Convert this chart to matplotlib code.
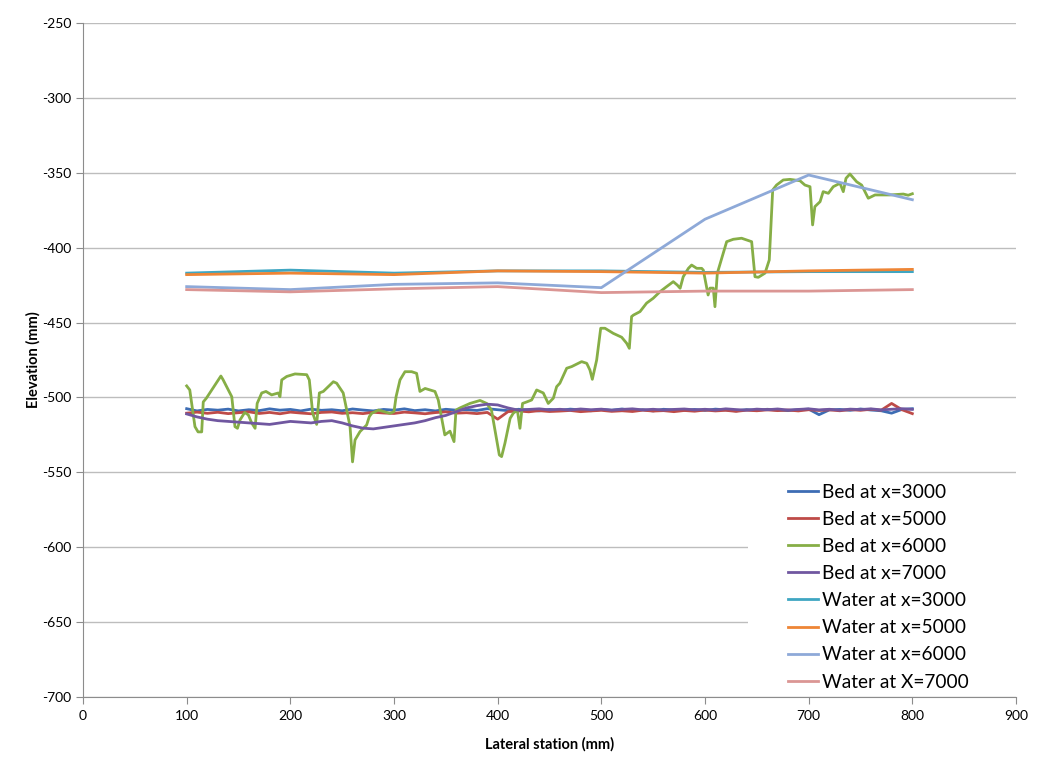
import matplotlib
matplotlib.use("Agg")
import matplotlib.pyplot as plt
from matplotlib.patches import Rectangle
import numpy as np

plt.rcParams['font.family'] = ['Lato', 'DejaVu Sans']
plt.rcParams['axes.unicode_minus'] = False

# lateral stations for the dense bed profiles (every 10 mm)
bed_x = list(range(100, 801, 10))

bed3000 = [-507.5, -509, -508, -508.5, -507.8, -509, -508.2, -508.8, -507.6, -508.5,
           -508, -509, -507.8, -508.6, -508.2, -508.9, -507.7, -508.4, -509, -508,
           -508.5, -507.6, -508.8, -508.2, -509, -507.9, -508.5, -508.1, -508.7, -507.5,
           -508.2, -508.8, -507.9, -508.4, -509, -508, -508.6, -507.8, -508.3, -508.9,
           -508, -508.5, -507.7, -508.8, -508.2, -509, -507.9, -508.4, -508.6, -508,
           -508.7, -507.8, -508.3, -509, -508.1, -508.6, -507.9, -508.4, -508.8, -508.2,
           -507.8, -511.5, -508.3, -508, -508.6, -507.7, -508.4, -508.9, -510.5, -508,
           -507.5]

bed5000 = [-510.5, -509.8, -510.6, -509.9, -510.8, -510.2, -509.6, -510.7, -510, -510.9,
           -509.8, -510.4, -510.9, -510, -509.7, -510.6, -510.2, -510.8, -509.9, -510.4,
           -510.7, -509.8, -510.3, -510.9, -510.1, -509.6, -510.5, -510.2, -510.8, -510,
           -514.5, -509.5, -509, -509.6, -508.8, -509.4, -509.1, -508.7, -509.5, -509,
           -508.6, -509.3, -508.9, -509.4, -508.5, -509.1, -508.8, -509.5, -508.7, -509.2,
           -508.4, -509, -508.6, -509.3, -508.5, -508.9, -508.3, -508.8, -508.4, -509,
           -508.2, -508.7, -508.3, -508.9, -508.1, -508.6, -507.9, -508.5, -504, -508.2,
           -510.8]

bed7000 = [-511, -513, -514.5, -515.5, -516, -516.5, -517, -517.5, -518, -517,
           -516, -516.5, -517, -516, -515.5, -517, -519, -520.5, -521, -520,
           -519, -518, -517, -515.5, -513.5, -512, -509.5, -507, -505.5, -504.5,
           -505, -507, -508.5, -508, -507.6, -508.3, -507.9, -508.4, -507.7, -508.2,
           -507.8, -508.5, -508, -507.6, -508.3, -507.9, -508.4, -508, -507.7, -508.3,
           -507.9, -508.4, -507.6, -508.1, -508.5, -507.8, -508.2, -507.7, -508.4, -508,
           -507.6, -508.3, -507.9, -508.5, -507.8, -508.1, -507.6, -508.3, -507.9, -507.5,
           -508]

bed6000_x = [100, 103, 108, 111, 114.5, 116, 119, 133, 135, 143.5, 146.6, 149, 151.5, 156,
             159.5, 162.7, 166, 168, 172.4, 176.5, 182, 188.4, 190, 191.7, 196.5, 204.5,
             215.8, 218.3, 221.6, 225.4, 228, 231.8, 241.5, 244.7, 251, 254.4, 257.6, 260,
             262.4, 267.2, 273.6, 276.2, 278.5, 285, 296, 300, 302, 305.8, 310.6, 317,
             321.8, 325, 330, 334.7, 339.5, 342.7, 347.5, 349, 354, 357.9, 359.8, 363.6,
             373.3, 383, 389.4, 394, 397.4, 401.6, 403.8, 407, 412, 415, 419, 421.5, 424,
             428, 432.8, 437.6, 444, 448.8, 453.7, 456.9, 460, 466.6, 471.4, 481, 485.9,
             489, 491.3, 495.5, 499.4, 503.5, 511.5, 519.6, 524.4, 527, 529.2, 531, 537.3,
             543.7, 550, 556.6, 563, 569.4, 573.3, 576, 579, 584, 587.1, 592, 596.8, 598.4,
             601.5, 603, 604.8, 608, 609.6, 611.9, 620.9, 627.3, 635.3, 645, 648.2, 651.4,
             657.9, 662, 665.3, 669, 675.5, 682, 691.6, 696.4, 701.3, 703.8, 706, 711, 714,
             719, 723.7, 730.2, 733.4, 736, 739.8, 746.3, 751.1, 757.5, 764, 778.5, 791.3,
             796, 800]
bed6000 = [-492.3, -495, -519.5, -523, -523, -503, -500.5, -485.7, -488, -499.5, -519.5,
           -520.6, -515, -510, -511.7, -517, -520.6, -504, -497, -496, -498.3, -497, -499.5,
           -488.3, -486, -484.3, -484.8, -488.3, -510.6, -518, -497, -496, -489.5, -490.5,
           -497, -508.4, -519.5, -543, -528.4, -522.8, -518.4, -512.8, -510.6, -508.4,
           -510.6, -509.5, -499.5, -488.3, -482.8, -482.8, -483.9, -496, -494, -495, -496,
           -501.7, -519.5, -525, -522.5, -529.5, -508.4, -507, -504, -502, -504, -508.4,
           -521.7, -538.4, -539.5, -530.6, -514, -510.6, -508.4, -520.6, -504, -503, -501.7,
           -495, -497, -504, -500.5, -492.8, -490.5, -480.5, -479.4, -476.1, -477.2, -481.7,
           -487.9, -475, -453.8, -453.8, -457.2, -459.8, -463.8, -467.2, -446, -445, -442.7,
           -437, -433.8, -429.4, -426, -422.7, -425, -427.1, -419.4, -413.8, -411.6, -413.8,
           -413.8, -415, -426, -431.6, -427, -427, -439.4, -417, -396, -394.4, -393.7, -396,
           -419.4, -419.8, -417, -408.2, -361.5, -358.2, -354.8, -354.4, -355.3, -358.2,
           -359.3, -384.8, -372.6, -369.3, -362.6, -363.7, -359.3, -357, -362.6, -353.7,
           -350.8, -356, -358.2, -367, -364.8, -364.8, -364.2, -365, -364]

# water surface profiles, measured every 100 mm
water_x = [100, 200, 300, 400, 500, 600, 700, 800]
water3000 = [-417, -415, -417, -415.5, -415.5, -416.5, -416, -416]
water5000 = [-418, -417, -418, -415.5, -416, -417, -415.5, -414.5]
water6000 = [-426, -428, -424.5, -423.5, -426.7, -381, -351.5, -368]
water7000 = [-428, -429.5, -427.5, -426, -430, -429, -429, -428]

fig = plt.figure(figsize=(10.56, 7.69), dpi=100)
ax = fig.add_axes([83 / 1056, 1 - 697 / 769, 933 / 1056, 674 / 769])

lw = 2.0
ax.plot(bed_x, bed3000, color='#3D6DB4', lw=lw, label='Bed at x=3000', zorder=2)
ax.plot(bed_x, bed5000, color='#BE4B48', lw=lw, label='Bed at x=5000', zorder=2)
ax.plot(bed6000_x, bed6000, color='#86AE46', lw=lw, label='Bed at x=6000', zorder=2)
ax.plot(bed_x, bed7000, color='#7057A0', lw=lw, label='Bed at x=7000', zorder=2)
ax.plot(water_x, water3000, color='#3FA6C2', lw=lw, label='Water at x=3000', zorder=2)
ax.plot(water_x, water5000, color='#EE8536', lw=lw, label='Water at x=5000', zorder=2)
ax.plot(water_x, water6000, color='#8EA9D8', lw=lw, label='Water at x=6000', zorder=2)
ax.plot(water_x, water7000, color='#DB9694', lw=lw, label='Water at X=7000', zorder=2)

ax.set_xlim(0, 900)
ax.set_ylim(-700, -250)
ax.set_xticks(np.arange(0, 901, 100))
ax.set_yticks(np.arange(-700, -249, 50))
ax.grid(axis='y', color='#BDBDBD', lw=1)
ax.set_axisbelow(True)
for s in ['top', 'right']:
    ax.spines[s].set_visible(False)
for s in ['left', 'bottom']:
    ax.spines[s].set_color('#8C8C8C')
ax.tick_params(axis='both', colors='#8C8C8C', length=5, labelsize=10, labelcolor='black')
ax.tick_params(axis='x', pad=4)

ax.set_xlabel('Lateral station (mm)', fontsize=10.5, fontweight='bold', labelpad=11)
ax.set_ylabel('Elevation (mm)', fontsize=10.5, fontweight='bold', labelpad=1)

# white legend area hides the gridlines behind it
leg_left = (748 - 83) / 933
leg_top = (697 - 476) / 674
ax.add_patch(Rectangle((leg_left, 0.002), 1 - leg_left, leg_top, transform=ax.transAxes,
                       facecolor='white', edgecolor='none', zorder=1))

leg = ax.legend(loc='upper left', bbox_to_anchor=((788 - 83) / 933, (697 - 483.5) / 674),
                fontsize=13.8, frameon=False, handlelength=1.56, handletextpad=0.2,
                labelspacing=0.53, borderpad=0, borderaxespad=0)

fig.savefig('out.png', dpi=100)
